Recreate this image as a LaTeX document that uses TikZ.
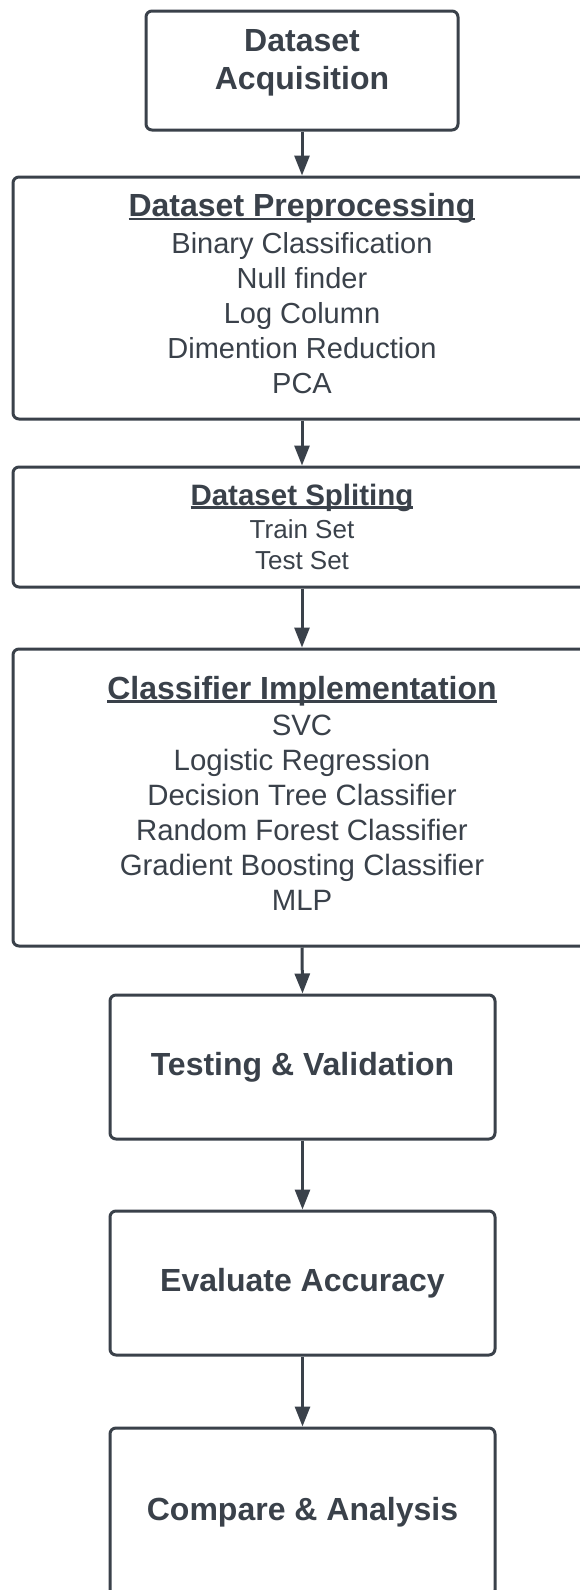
\documentclass[tikz,border=0pt]{standalone}
\usepackage{fontspec}
\setmainfont{Liberation Sans}
\usetikzlibrary{arrows.meta}
\definecolor{ink}{HTML}{3A414A}
% heading with a line just under the baseline
\newcommand{\hdline}[1]{\setbox0\hbox{#1}\rlap{\rule[-3.5pt]{\wd0}{2.5pt}}\box0}

\begin{document}
\begin{tikzpicture}[x=1pt,y=-1pt,
  stage/.style={draw=ink, line width=3pt, rounded corners=6pt, fill=white, text=ink, align=center},
  flow/.style={draw=ink, line width=3pt, -{Triangle[length=20pt,width=15pt]}},
  boldtxt/.style={font=\fontsize{32}{38}\selectfont\bfseries, text=ink, align=center}]
  \fill[white] (0,0) rectangle (579,1590);
  \useasboundingbox (0,0) rectangle (579,1590);

  % Acquisition
  \node[stage, minimum width=312pt, minimum height=119pt] (acq) at (302,70.5) {};
  \node[boldtxt] (acqtxt) at (302,62.5) {Dataset\\Acquisition};

  % Wide boxes (cut at right edge)
  \node[stage, minimum width=578pt, minimum height=242pt, font=\fontsize{29}{35}\selectfont] (prep) at (302,298)
    {{\fontsize{32}{37}\selectfont\bfseries\hdline{Dataset Preprocessing}}\\[2pt]
     Binary Classification\\ Null finder\\ Log Column\\ Dimention Reduction\\ PCA\rule[-9pt]{0pt}{9pt}};
  \node[stage, minimum width=578pt, minimum height=120pt, font=\fontsize{26}{31}\selectfont] (split) at (302,527)
    {{\fontsize{29.5}{34}\selectfont\bfseries\hdline{Dataset Spliting}}\\[2.5pt]
     Train Set\\ Test Set};
  \node[stage, minimum width=578pt, minimum height=297pt, font=\fontsize{29.4}{35}\selectfont] (clf) at (302,797.5)
    {{\fontsize{32}{37}\selectfont\bfseries\hdline{Classifier Implementation}}\\[1.5pt]
     SVC\\ Logistic Regression\\ Decision Tree Classifier\\ Random Forest Classifier\\
     Gradient Boosting Classifier\\ MLP\rule[-8pt]{0pt}{8pt}};

  % Lower boxes
  \node[stage, minimum width=385pt, minimum height=144pt, font=\fontsize{32}{38}\selectfont\bfseries] (test) at (302.5,1067) {Testing \& Validation};
  \node[stage, minimum width=385pt, minimum height=144pt, font=\fontsize{32}{38}\selectfont\bfseries] (eval) at (302.5,1283) {Evaluate Accuracy};
  \node[stage, minimum width=385pt, minimum height=168pt, font=\fontsize{32}{38}\selectfont\bfseries] (comp) at (302.5,1512) {Compare \& Analysis};

  % Arrows
  \draw[flow] (acq.south) -- (prep.north);
  \draw[flow] (prep.south) -- (split.north);
  \draw[flow] (split.south) -- (clf.north);
  \draw[flow] (clf.south) -- (test.north);
  \draw[flow] (test.south) -- (eval.north);
  \draw[flow] (eval.south) -- (comp.north);
\end{tikzpicture}
\end{document}
